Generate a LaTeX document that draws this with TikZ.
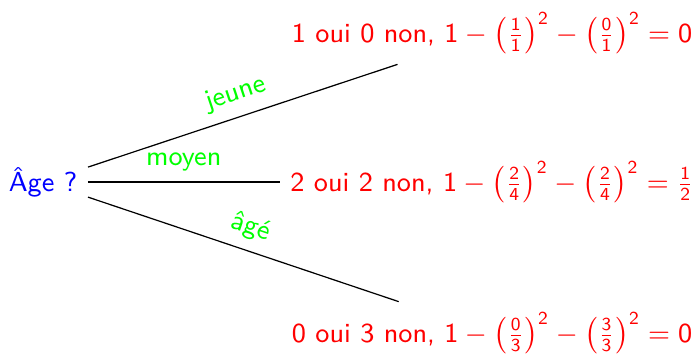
\documentclass[tikz,border=0pt]{standalone}
\tikzset{
  question/.style={text=blue},
  leaf/.style={text=red},
  branch/.style={text=green, midway, above, sloped},
}
% sans-serif digits inside formulas
\newcommand\sd[1]{\mathsf{#1}}
\newcommand\sq[2]{\left(\frac{\sd{#1}}{\sd{#2}}\right)^{\sd{2}}}
\begin{document}
\begin{tikzpicture}[x=0.3273pt, y=-0.3273pt,
    font=\sffamily\fontsize{9}{11}\selectfont]
  \useasboundingbox (0,0) rectangle (699,353);
  % root question
  \node[question] (age) at (43,182) {Âge ?};
  % leaves with their Gini impurity
  \node[leaf] (jeune) at (492,33)
    {1 oui 0 non, $\sd{1}-\sq{1}{1}-\sq{0}{1}=\sd{0}$};
  \node[leaf] (moyen) at (492,182)
    {2 oui 2 non, $\sd{1}-\sq{2}{4}-\sq{2}{4}=\frac{\sd{1}}{\sd{2}}$};
  \node[leaf] (age2) at (492,333)
    {0 oui 3 non, $\sd{1}-\sq{0}{3}-\sq{3}{3}=\sd{0}$};
  % branches
  \draw (age) -- (jeune) node[branch] {jeune};
  \draw (age) -- (moyen) node[branch] {moyen};
  \draw (age) -- (age2) node[branch] {âgé};
\end{tikzpicture}
\end{document}
